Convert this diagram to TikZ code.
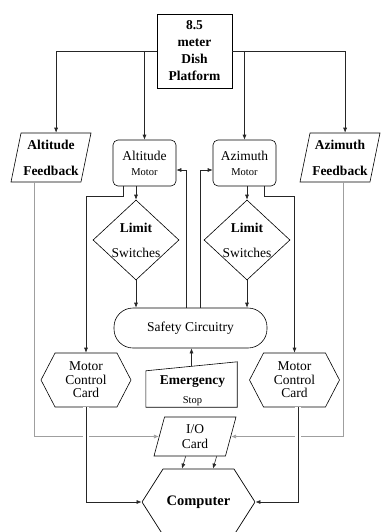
\documentclass[tikz,border=0pt]{standalone}
\usepackage{fontspec}
\setmainfont{Liberation Serif}
\usetikzlibrary{shapes}
\usetikzlibrary{positioning}
\usetikzlibrary{arrows.meta}
\usetikzlibrary{calc}
\tikzset{
    platbox/.style = {rectangle, line width=0.7pt, draw=black, minimum width=75pt, minimum height=74pt, align=center, inner sep=1pt, font=\fontsize{13.5}{17}\selectfont\bfseries},
    fbnode/.style = {trapezium, trapezium left angle=75, trapezium right angle=105, trapezium stretches body, line width=0.6pt, draw=black, minimum width=80pt, minimum height=49pt, align=center, inner sep=1pt, font=\fontsize{13.5}{17}\selectfont\bfseries},
    motornode/.style = {rectangle, rounded corners=5pt, line width=0.6pt, draw=black, minimum width=63pt, minimum height=46pt, align=center, inner sep=1pt, font=\fontsize{13.5}{17}\selectfont},
    limitnode/.style = {diamond, line width=0.6pt, draw=black, minimum width=86pt, minimum height=80pt, inner sep=0pt},
    safenode/.style = {rectangle, rounded corners=19pt, line width=0.6pt, draw=black, minimum width=153pt, minimum height=40pt, font=\fontsize{13.5}{17}\selectfont},
    cardnode/.style = {signal, signal to=east and west, signal pointer angle=125, line width=0.6pt, draw=black, minimum width=90pt, minimum height=54pt, align=center, inner sep=1pt, font=\fontsize{13.5}{13.5}\selectfont},
    ionode/.style = {trapezium, trapezium left angle=68, trapezium right angle=112, trapezium stretches body, line width=0.6pt, draw=black, minimum width=82pt, minimum height=39pt, align=center, inner sep=1pt, font=\fontsize{13.5}{17}\selectfont},
    compnode/.style = {signal, signal to=east and west, signal pointer angle=115, line width=0.7pt, draw=black, minimum width=113pt, minimum height=66pt, inner sep=1pt, font=\fontsize{14.5}{17}\selectfont\bfseries},
    textn/.style = {align=center, inner sep=0pt, font=\fontsize{13.5}{17}\selectfont},
    edgen/.style = {-{Latex[length=5pt,width=4pt]}, line width=0.6pt, black!85},
    edgeg/.style = {-{Latex[length=5pt,width=4pt]}, line width=0.6pt, gray!75},
    bridge/.style = {preaction={draw, white, line width=6pt, -}}
}

\begin{document}
\begin{tikzpicture}[x=1pt, y=-1pt]
  \useasboundingbox (0,0) rectangle (381,532);

  % shapes
  \node[platbox] (plat) at (194.5,51) {8.5\\meter\\Dish\\Platform};
  \node[fbnode] (fb1) at (51,157.5) {Altitude\\[9pt]Feedback};
  \node[fbnode] (fb2) at (340,157.5) {Azimuth\\[9pt]Feedback};
  \node[motornode] (altm) at (144.5,163) {Altitude\\[-2pt]{\fontsize{10.5}{12}\selectfont Motor}};
  \node[motornode] (azm) at (244.5,163) {Azimuth\\[-2pt]{\fontsize{10.5}{12}\selectfont Motor}};
  \node[limitnode] (ls1) at (136,240) {};
  \node[textn] at (ls1) {\textbf{Limit}\\[8pt]Switches};
  \node[limitnode] (ls2) at (247,240) {};
  \node[textn] at (ls2) {\textbf{Limit}\\[8pt]Switches};
  \node[safenode] (safe) at (190.5,328) {Safety Circuitry};
  \node[cardnode] (mcc1) at (86,380) {Motor\\Control\\Card};
  \node[cardnode] (mcc2) at (294.5,380) {Motor\\Control\\Card};
  \node[rectangle, minimum width=91pt, minimum height=45pt, inner sep=0pt] (estop) at (191.5,384.5) {};
  \draw[line width=0.6pt] (estop.south west) -- (estop.south east) -- (estop.north east)
      -- ($(estop.north west)+(0,9)$) -- cycle;
  \node[textn, font=\fontsize{13.5}{17}\selectfont\bfseries] at ($(estop.center)+(1,-3)$) {Emergency};
  \node[textn, font=\fontsize{10.5}{12}\selectfont] at ($(estop.center)+(1,17)$) {Stop};
  \node[ionode] (io) at (195,436.5) {I/O\\[-2pt]Card};
  \node[compnode] (comp) at (198.5,502) {Computer};

  % platform to the four blocks
  \draw[edgen] (plat.west) -| (fb1.top side);
  \draw[edgen] (plat.west -| altm.north) -- (altm.north);
  \draw[edgen] (plat.east) -| (fb2.top side);
  \draw[edgen] (plat.east -| azm.north) -- (azm.north);

  % motors to limit switches and cards
  \draw[edgen] (ls1.north |- altm.south) -- (ls1.north);
  \draw[edgen] (ls2.north |- azm.south) -- (ls2.north);
  \draw[edgen] ($(altm.south)+(-21.5,0)$) -- ++(0,10) -| (mcc1.north);
  \draw[edgen] ($(azm.south)+(19.5,0)$) -- ++(0,10) -| (mcc2.north);

  % limit switches to safety circuitry
  \draw[edgen] (ls1.south) -- (safe.north -| ls1.south);
  \draw[edgen] (ls2.south) -- (safe.north -| ls2.south);

  % safety circuitry back to motors
  \draw[edgen] ($(safe.north)+(-4.5,0)$) |- ($(altm.east)+(0,7)$);
  \draw[edgen] ($(safe.north)+(9.5,0)$) |- ($(azm.west)+(0,7)$);

  % emergency stop
  \draw[edgen] ($(estop.north)+(0,4.5)$) -- (safe.south -| estop.north);

  % feedback to I/O card
  \draw[edgeg] ($(fb1.bottom side)+(-12,0)$) |- (io.left side);
  \draw[edgeg] ($(fb2.bottom side)+(8,0)$) |- (io.right side);

  % cards to computer
  \draw[edgen, bridge] (mcc1.south) |- (comp.west);
  \draw[edgen, bridge] ($(mcc2.south)+(3.5,0)$) |- (comp.east);
  \draw[edgen] ($(io.bottom side)+(-4,0)$) -- (comp.north -| 182,0);
  \draw[edgen] ($(io.bottom side)+(27,0)$) -- (comp.north -| 213,0);

\end{tikzpicture}
\end{document}
